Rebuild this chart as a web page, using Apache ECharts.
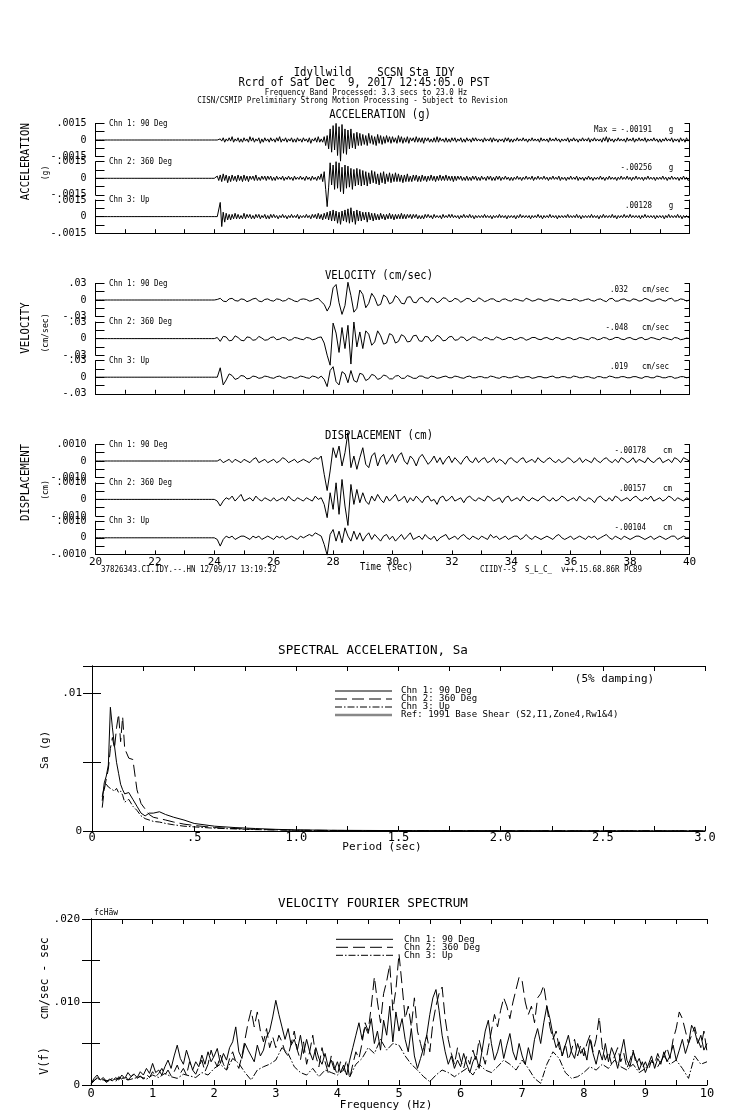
<!DOCTYPE html>
<html><head><meta charset="utf-8">
<script src="https://cdn.jsdelivr.net/npm/echarts@6/dist/echarts.min.js"></script>
<style>html,body{margin:0;padding:0;background:#fff}#c{width:739px;height:1115px}</style>
</head><body><div id="c"></div>
<script>
// ---------- DATA ----------
const TIME_START = 20;
// Acceleration, units of 1e-4 g, sampled every 0.05 s from 20.0 s to 40.0 s
const ACC_STEP = 0.05;
const acc1 = [0,0,0,0,0,0,0,0,0,0,0,0,0,0,0,0,0,0,0,0, 0,0,0,0,0,0,0,0,0,0,0,0,0,0,0,0,0,0,0,0,
 0,0,0,0,0,0,0,0,0,0,0,0,0,0,0,0,0,0,0,0, 0,0,0,0,0,0,0,0,0,0,0,0,0,0,0,0,0,0,0,0,
 0,0,0,0,1,-1,2,-2,1,-1,2,-1,3,-2,1,-1,2,-2,1,-2,
 2,-1,1,-2,3,-1,2,-2,1,-1,2,-3,1,-2,2,-1,1,-2,2,-1,
 1,-2,2,-1,3,-2,1,-1,2,-2,1,-1,2,-2,1,-2,2,-1,1,-2,
 2,-1,1,-2,2,-3,1,-1,2,-2,3,-2,1,-2,3,-5,4,-8,10,-11,
 13,-9,15,-14,12,-19.1,14,-12,10,-13,9,-8,10,-7,6,-8,7,-5,6,-5,
 5,-4,4,-5,6,-3,4,-4,3,-5,5,-3,4,-4,3,-3,4,-2,3,-3,
 3,-2,2,-3,4,-2,3,-3,2,-2,3,-3,2,-1,2,-2,3,-2,2,-2,
 2,-3,2,-1,2,-2,1,-2,2,-2,3,-2,2,-1,1,-2,2,-2,1,-2,
 2,-1,2,-2,1,-1,2,-2,1,-2,2,-1,1,-2,2,-1,2,-1,1,-1,
 1,-2,2,-1,1,-1,2,-2,2,-1,1,-2,1,-1,1,-2,2,-1,2,-2,
 1,-2,1,-1,2,-1,1,-1,2,-1,1,-2,1,-1,2,-1,1,-1,1,-2,
 2,-1,1,-1,1,-2,2,-1,1,-1,2,-1,1,-2,1,-1,1,-1,2,-2,
 1,-1,2,-1,1,-2,1,-1,2,-1,1,-1,2,-2,1,-1,2,-1,1,-1,
 1,-2,2,-1,3,-2,2,-1,1,-2,1,-1,2,-1,1,-1,1,-2,2,-1,
 1,-1,2,-2,1,-1,2,-1,1,-1,2,-2,1,-1,1,-1,2,-1,1,-2,
 1,-2,1,-1,2,-1,1,-1,2,-2,1,-1,1,-2,2,-1,1,-2,2,-1, 1];
const acc2 = [0,0,0,0,0,0,0,0,0,0,0,0,0,0,0,0,0,0,0,0, 0,0,0,0,0,0,0,0,0,0,0,0,0,0,0,0,0,0,0,0,
 0,0,0,0,0,0,0,0,0,0,0,0,0,0,0,0,0,0,0,0, 0,0,0,0,0,0,0,0,0,0,0,0,0,0,0,0,0,0,0,0,
 0,0,2,-2,3,-3,4,-2,3,-4,2,-3,3,-2,2,-3,3,-2,2,-3,
 3,-2,2,-3,2,-1,2,-2,3,-2,1,-2,2,-1,2,-2,2,-1,2,-2,
 1,-2,2,-1,1,-1,2,-2,1,-1,2,-1,1,-2,2,-1,1,-1,2,-1,
 1,-2,2,-1,1,-2,2,-1,1,-2,2,-1,4,-3,6,-10,-25.6,-8,14,-6,
 12,-10,15,-9,14,-12,10,-14,12,-9,11,-8,9,-10,8,-7,9,-6,8,-7,
 7,-6,6,-7,5,-5,7,-4,6,-5,4,-6,5,-4,6,-5,4,-3,5,-4,
 4,-3,5,-3,4,-3,3,-4,3,-3,4,-3,2,-3,3,-2,3,-3,2,-3,
 3,-2,2,-3,2,-2,3,-2,2,-3,2,-2,3,-2,2,-2,3,-2,2,-2,
 2,-3,2,-2,2,-1,2,-2,1,-2,2,-2,1,-2,2,-1,2,-2,1,-2,
 2,-1,1,-2,2,-1,2,-2,1,-2,2,-1,2,-2,1,-1,2,-1,1,-2,
 1,-2,1,-1,2,-1,1,-2,1,-1,2,-1,1,-1,2,-2,1,-1,2,-1,
 1,-1,2,-1,1,-2,1,-1,2,-1,1,-1,2,-2,1,-1,1,-2,1,-1,
 2,-1,1,-1,2,-2,1,-1,1,-2,1,-1,2,-1,1,-2,1,-1,1,-1,
 2,-1,1,-2,1,-1,2,-1,1,-1,1,-2,1,-1,2,-1,1,-1,2,-1,
 1,-2,1,-1,2,-1,1,-1,1,-2,1,-1,2,-1,1,-1,1,-2,1,-1,
 1,-1,2,-1,1,-2,1,-1,2,-1,1,-1,1,-2,1,-1,2,-1,1,-2, -1];
const acc3 = [0,0,0,0,0,0,0,0,0,0,0,0,0,0,0,0,0,0,0,0, 0,0,0,0,0,0,0,0,0,0,0,0,0,0,0,0,0,0,0,0,
 0,0,0,0,0,0,0,0,0,0,0,0,0,0,0,0,0,0,0,0, 0,0,0,0,0,0,0,0,0,0,0,0,0,0,0,0,0,0,0,0,
 0,0,0,0,12.8,-9,4,-5,3,-3,2,-3,2,-2,3,-2,2,-2,1,-2,
 3,-2,2,-1,2,-2,1,-2,2,-1,2,-2,1,-1,2,-2,1,-2,2,-1,
 2,-1,1,-2,1,-1,2,-1,1,-2,1,-1,2,-1,1,-1,2,-2,1,-1,
 1,-1,2,-1,1,-2,2,-1,2,-2,3,-2,2,-3,3,-2,4,-3,5,-4,
 6,-4,5,-6,4,-7,5,-4,6,-5,7,-6,8,-5,5,-7,6,-4,5,-4,
 4,-3,4,-5,4,-3,3,-4,3,-3,2,-3,3,-2,2,-3,2,-2,3,-2,
 2,-3,2,-2,2,-2,3,-2,2,-2,2,-1,2,-2,2,-1,2,-2,1,-2,
 1,-2,2,-1,2,-1,1,-2,2,-1,1,-1,1,-2,2,-1,1,-1,2,-1,
 2,-1,1,-1,1,-2,1,-1,2,-1,1,-1,2,-1,1,-2,1,-1,1,-1,
 1,-1,2,-1,1,-1,1,-2,1,-1,1,-1,2,-1,1,-1,1,-2,1,-1,
 1,-1,1,-2,1,-1,2,-1,1,-1,1,-1,1,-2,1,-1,1,-1,2,-1,
 1,-2,1,-1,1,-1,2,-1,1,-1,1,-2,1,-1,1,-1,1,-1,2,-1,
 1,-1,1,-1,2,-1,1,-2,1,-1,1,-1,1,-1,2,-1,1,-1,1,-2,
 1,-1,2,-1,1,-1,1,-1,2,-1,1,-2,1,-1,1,-1,2,-1,1,-1,
 2,-1,1,-1,1,-1,1,-2,1,-1,2,-1,1,-1,1,-1,1,-2,1,-1,
 1,-1,1,-2,1,-1,2,-1,1,-1,1,-1,2,-1,1,-2,1,-1,1,-1, 0];
// Velocity (1e-3 cm/sec) and displacement (1e-4 cm), sampled every 0.1 s from 20.0 s to 40.0 s
const VD_STEP = 0.1;
const vel1 = [0,0,0,0,0,0,0,0,0,0, 0,0,0,0,0,0,0,0,0,0, 0,0,0,0,0,0,0,0,0,0, 0,0,0,0,0,0,0,0,0,0,
 0,1,3,-2,-3,2,3,-1,-2,2, 1,-3,-1,2,3,-2,-3,1,2,-1, -2,2,1,-2,-1,3,1,-2,-3,1, 2,1,-2,-1,2,3,-3,-8,-20,-10,
 22,28,-5,-26,-10,32,8,-22,-15,18, 10,-14,-6,12,4,-10,-8,9,5,-7, -4,8,3,-6,-7,5,6,-4,-5,3, 5,-2,-4,4,2,-5,-2,4,3,-3,
 -2,3,1,-4,-1,3,2,-3,-2,4, 1,-3,-1,2,2,-2,-3,1,2,-1, -2,2,1,-1,-2,3,1,-2,-1,2, 1,-2,-1,2,1,-1,-2,2,1,-1,
 -1,2,1,-2,-1,1,2,-1,-2,1, 2,-1,-3,2,3,-2,-2,1,2,-1, -2,2,1,-2,-1,3,1,-2,-2,1, 2,-1,-2,2,3,-2,-1,2,1,-2, 0];
const vel2 = [0,0,0,0,0,0,0,0,0,0, 0,0,0,0,0,0,0,0,0,0, 0,0,0,0,0,0,0,0,0,0, 0,0,0,0,0,0,0,0,0,0,
 0,2,-5,4,3,-4,-3,5,2,-3, -4,3,2,-3,-2,4,1,-3,-2,2, 3,-2,-1,2,1,-3,-2,2,1,-1, -2,2,1,-2,-1,2,3,-8,-30,-48,
 28,10,-25,20,-18,24,-46,30,-15,12, -18,14,8,-12,-6,14,5,-10,-8,9, 6,-8,-5,7,4,-6,-5,5,6,-4, -5,4,3,-5,-2,6,3,-4,-3,3,
 4,-3,-2,3,2,-4,-1,3,2,-2, -3,2,1,-2,-2,3,1,-2,-1,2, 2,-2,-1,2,1,-3,-1,2,2,-1, -2,1,2,-1,-2,2,1,-2,-1,2,
 1,-2,-1,2,1,-1,-2,2,1,-2, -1,2,1,-2,-1,2,2,-1,-2,1, 2,-1,-2,1,2,-2,-1,2,1,-1, -2,2,1,-1,-2,2,1,-2,-1,1, 0];
const vel3 = [0,0,0,0,0,0,0,0,0,0, 0,0,0,0,0,0,0,0,0,0, 0,0,0,0,0,0,0,0,0,0, 0,0,0,0,0,0,0,0,0,0,
 0,0,17,-14,-5,6,3,-4,-2,3, 2,-3,-2,2,1,-2,-1,2,1,-1, -2,1,2,-1,-2,1,1,-2,-1,2, 1,-1,-2,2,1,-2,2,-4,-17,12,
 19,-8,-14,10,6,-10,12,-6,-9,7, 5,-6,-3,5,3,-4,-2,4,2,-3, -3,2,3,-2,-2,3,1,-2,-2,2, 2,-1,-2,2,1,-2,-1,1,2,-1,
 -1,2,1,-1,-2,1,2,-1,-1,1, 1,-1,-1,2,1,-1,-2,1,1,-1, -1,1,2,-1,-1,1,1,-2,-1,1, 1,-1,-1,1,2,-1,-1,1,1,-1,
 -1,2,1,-1,-1,1,1,-1,-2,1, 1,-1,-1,2,1,-1,-1,1,1,-1, -1,1,1,-1,-2,1,1,-1,-1,2, 1,-1,-1,1,1,-2,-1,1,1,-1, 0];
const disp1 = [0,0,0,0,0,0,0,0,0,0, 0,0,0,0,0,0,0,0,0,0, 0,0,0,0,0,0,0,0,0,0, 0,0,0,0,0,0,0,0,0,0,
 0,0,1,-1,0,1,-1,1,0,-1, 1,0,-1,1,2,-1,0,1,-1,0, 1,-1,0,2,1,-1,0,1,-1,0, 1,0,-1,1,2,1,3,-8,-17.8,-6,
 8,2,9,-3,5,17,-4,3,-5,2, 8,-2,-4,3,5,-3,2,4,-2,1, 4,-1,3,5,0,-2,3,1,-3,2, 4,1,-2,0,3,-1,2,-2,1,3,
 -1,2,0,-2,1,3,0,-1,2,-1, 1,2,-1,0,2,-1,1,0,-2,1, 2,0,-1,1,2,-1,0,1,-1,2, 0,-1,1,2,0,-1,1,-1,0,2,
 1,-1,0,2,-1,1,0,-1,2,0, -1,1,2,0,-1,1,-1,2,1,-1, 0,2,-1,1,0,-1,2,0,-1,1, 2,-1,0,1,-1,2,1,-1,2,1, 0];
const disp2 = [0,0,0,0,0,0,0,0,0,0, 0,0,0,0,0,0,0,0,0,0, 0,0,0,0,0,0,0,0,0,0, 0,0,0,0,0,0,0,0,0,0,
 0,-1,-4,-1,1,0,2,-1,1,3, -1,0,1,-1,2,0,-1,1,0,-1, 1,-1,0,1,-1,2,0,-1,1,0, -1,1,0,-1,2,0,1,-3,-11,4,
 -6,10,-9,12,-4,-15.7,9,-3,6,-2, 4,-1,-3,2,-1,3,0,-2,2,-1, 1,3,-1,0,2,-2,1,-1,2,0, -2,1,2,-1,0,-3,1,2,-1,0,
 2,-1,0,1,-2,1,2,0,-1,1, 0,-1,2,1,-1,0,1,-2,1,2, -1,0,1,-1,2,0,-1,1,0,-1, 1,2,0,-1,1,-1,0,2,1,-1,
 0,1,-1,2,0,-1,1,0,-2,1, 2,0,-1,1,-1,2,1,-1,0,1, -1,1,2,0,-1,1,0,2,-1,0, 1,-1,0,2,1,-1,1,0,-1,1, 0];
const disp3 = [0,0,0,0,0,0,0,0,0,0, 0,0,0,0,0,0,0,0,0,0, 0,0,0,0,0,0,0,0,0,0, 0,0,0,0,0,0,0,0,0,0,
 0,-1,-5,-1,1,0,1,-1,0,1, 1,0,-1,1,0,1,-1,0,1,0, -1,1,0,1,-1,0,1,0,-1,1, 0,1,2,1,3,2,1,-4,-10.4,2,
 5,-2,4,-3,6,1,-2,4,-1,3, -2,1,3,-1,2,0,-2,1,2,-1, 1,-2,0,2,-1,1,3,-1,0,1, -1,2,0,-1,1,-2,0,1,2,-1,
 0,1,-1,1,2,0,-1,1,0,-1, 1,0,-1,2,0,1,-1,0,1,-1, 0,1,1,-1,0,2,0,-1,1,0, -1,0,1,0,-1,1,2,0,-1,0,
 1,-1,0,1,0,-1,1,0,1,-1, 0,1,2,0,-1,1,0,-1,1,0, -1,0,1,1,0,-1,0,1,-1,0, 1,0,-1,0,1,1,-1,0,1,0, 0];

const channelNames = ['Chn 1: 90 Deg', 'Chn 2: 360 Deg', 'Chn 3: Up'];
const accMax = ['-.00191', '-.00256', '.00128'];
const velMax = ['.032', '-.048', '.019'];
const dispMax = ['-.00178', '.00157', '-.00104'];
const timeTicks = [20,22,24,26,28,30,32,34,36,38,40];

// Spectral acceleration (5% damping), Sa in units of 1e-3 g
const saPeriods = [0.05,0.06,0.07,0.08,0.09,0.10,0.11,0.12,0.13,0.14,0.15,0.16,0.18,0.20,0.22,0.24,0.26,0.28,0.30,0.33,0.36,0.40,0.45,0.50,0.60,0.70,0.80,0.90,1.00,1.20,1.50,2.00,2.50,3.00];
const saChn1 = [2.2,3.5,4.0,4.8,9.0,7.5,6.2,5.0,4.2,3.4,3.0,2.7,2.8,2.3,1.8,1.3,1.1,1.3,1.3,1.4,1.2,1.0,0.8,0.55,0.35,0.25,0.18,0.12,0.08,0.05,0.03,0.02,0.01,0.01];
const saChn2 = [1.7,3.0,3.8,4.5,6.0,6.8,6.0,7.5,8.5,6.5,8.3,6.0,5.3,5.2,3.0,2.0,1.6,1.2,1.0,0.9,0.8,0.65,0.5,0.4,0.25,0.18,0.12,0.08,0.06,0.04,0.02,0.01,0.01,0.01];
const saChn3 = [2.5,3.2,3.4,3.2,3.1,3.0,2.9,3.1,2.8,2.9,2.6,2.1,2.3,1.8,1.5,1.1,0.9,0.8,0.7,0.65,0.55,0.45,0.35,0.3,0.2,0.15,0.1,0.08,0.05,0.03,0.02,0.01,0.01,0.01];

// Velocity Fourier spectrum, units of 1e-3 cm/sec-sec
const FS_STEP_12 = 0.05, FS_STEP_3 = 0.1; // Hz
const fsChn1 = [0.2,0.8,1.2,0.6,0.9,0.4,0.7,0.5,0.9,0.6,1.2,0.8,1.5,1.0,1.3,0.9,1.6,1.2,2.0,1.4,
 2.6,1.5,1.8,1.2,2.2,3.0,2.0,3.5,4.8,3.2,2.5,4.2,3.0,1.8,2.8,2.2,3.6,2.5,4.0,2.8,
 3.5,4.4,2.6,3.8,3.0,4.5,5.2,7.0,4.0,3.2,5.0,4.2,3.5,2.8,4.8,3.5,4.2,5.8,6.5,8.2,
 10.2,8.5,7.0,5.5,6.8,4.8,5.5,4.2,6.0,3.8,5.5,4.0,3.0,4.5,3.2,2.5,3.8,2.2,3.0,1.8,
 2.8,1.5,2.4,1.2,3.0,4.5,6.0,7.5,5.5,7.0,6.2,8.0,5.0,6.5,4.2,7.8,6.0,9.5,5.2,8.8,
 6.5,8.0,5.5,4.0,6.8,3.5,2.0,3.2,4.5,6.0,8.5,10.5,11.5,9.0,6.0,4.0,2.5,3.5,2.0,3.0,
 2.2,3.8,2.5,1.5,2.8,3.5,2.0,4.2,6.5,7.8,5.0,3.0,4.0,5.5,3.2,4.8,6.2,4.0,3.0,5.0,
 3.5,2.5,4.5,3.0,5.5,6.8,5.0,7.5,9.5,8.0,6.0,4.5,5.2,3.5,4.8,6.0,4.0,3.2,5.0,3.8,
 4.5,3.0,5.5,3.8,2.5,4.2,3.0,5.0,2.8,4.5,3.5,2.0,3.8,5.5,3.0,2.2,4.0,3.0,1.8,2.8,
 1.5,2.5,3.5,2.0,3.2,2.5,4.0,2.8,3.5,4.8,3.0,4.2,5.5,3.8,5.0,7.2,6.5,5.0,6.0,4.2, 5.0];
const fsChn2 = [0.1,0.5,0.9,0.5,0.7,0.3,0.6,0.8,0.4,1.0,0.7,1.2,0.6,1.0,1.4,0.8,1.1,0.7,1.3,0.9,
 1.6,1.0,1.4,2.0,1.2,1.8,1.1,1.6,2.4,1.4,2.0,1.2,2.8,1.8,1.3,2.2,3.0,1.6,2.5,4.2,
 3.0,2.2,3.6,2.5,1.8,3.2,4.0,2.8,2.0,3.5,5.5,7.5,9.0,7.0,8.8,6.5,5.2,6.8,4.5,5.8,
 4.5,6.0,5.2,4.0,3.5,5.0,6.5,4.2,3.0,5.2,2.5,4.0,6.0,3.5,2.2,4.5,2.8,1.5,3.5,2.2,
 1.2,2.8,1.8,3.0,0.8,2.5,4.0,3.2,5.0,7.5,6.5,9.5,13.0,10.0,7.5,11.0,12.5,14.5,9.0,11.5,
 15.8,12.0,8.0,9.5,7.0,10.5,6.5,5.0,3.5,6.0,4.0,7.5,9.5,11.0,11.8,8.0,5.5,3.8,2.5,4.5,
 3.0,2.0,3.5,2.5,4.2,3.0,5.5,3.8,2.5,4.5,6.5,8.5,7.0,9.0,10.5,9.5,8.0,10.0,11.5,13.0,
 12.5,10.0,8.5,9.5,7.5,10.5,11.0,12.0,9.5,7.0,5.5,6.5,4.5,3.5,5.0,3.0,4.2,5.5,3.5,4.8,
 3.5,5.0,6.0,4.0,5.5,8.2,4.5,3.0,4.0,2.5,3.5,4.5,2.8,3.8,2.0,3.0,4.2,2.5,3.2,2.0,
 2.8,1.8,3.0,2.5,3.8,2.8,3.5,4.5,3.2,5.5,6.8,8.8,8.0,6.5,5.0,6.0,7.0,5.5,4.5,6.5, 4.0];
const fsChn3 = [0.3,0.8,0.6,0.5,0.7,0.9,0.6,0.8,1.0,0.7,
 1.2,0.9,1.4,1.0,0.8,1.3,1.1,0.9,1.5,1.2,
 2.0,2.5,1.8,3.2,2.6,1.5,0.6,1.8,2.2,2.5,
 3.0,4.5,3.8,2.2,1.5,1.2,2.0,1.0,1.8,1.5,
 1.2,1.8,1.0,2.5,3.2,4.5,3.8,5.5,4.2,5.0,
 4.8,3.5,2.5,1.8,1.0,0.4,1.2,1.8,1.5,1.0,
 1.5,2.0,1.2,2.5,1.8,1.5,2.2,3.0,2.5,1.8,
 3.0,2.0,0.8,0.2,2.5,4.0,3.2,1.5,0.8,1.0,
 1.5,2.2,1.8,2.5,2.0,3.0,2.2,1.8,2.5,1.5,
 2.0,2.8,2.2,3.5,2.5,3.0,2.0,0.8,3.5,2.5, 2.8];

// ---------- LAYOUT / STYLE ----------
const MONO = "'DejaVu Sans Mono', 'Liberation Mono', monospace";
const INK = '#000';
const W_LEFT = 95.5, W_WIDTH = 594, HALF = 16.6;
const panels = [
  { zeros: [140, 178.3, 216.6], data: [acc1, acc2, acc3], step: ACC_STEP, range: 15,
    lab: { 15: '.0015', 0: '0', '-15': '-.0015' } },
  { zeros: [300, 338.6, 377.2], data: [vel1, vel2, vel3], step: VD_STEP, range: 30,
    lab: { 30: '.03', 0: '0', '-30': '-.03' } },
  { zeros: [461, 499.4, 537.8], data: [disp1, disp2, disp3], step: VD_STEP, range: 10,
    lab: { 10: '.0010', 0: '0', '-10': '-.0010' } }
];
const DASH2 = [12, 5], DASH3 = [7, 2, 1.5, 2];

const grids = [], xAxes = [], yAxes = [], series = [];
const ts = (arr, step) => arr.map((v, i) => [+(TIME_START + i * step).toFixed(3), v]);
const axisLineStyle = { color: INK, width: 1 };

panels.forEach((p, pi) => {
  p.zeros.forEach((z, ci) => {
    const g = grids.length;
    grids.push({ left: W_LEFT, top: z - HALF, width: W_WIDTH, height: 2 * HALF });
    xAxes.push({
      gridIndex: g, type: 'value', min: 20, max: 40, interval: 1, show: ci === 2,
      axisLine: { show: true, onZero: false, lineStyle: axisLineStyle },
      axisTick: { show: true, inside: true, length: 4, lineStyle: axisLineStyle },
      axisLabel: { show: pi === 2, margin: 2, fontSize: 11, color: INK, fontFamily: MONO,
        formatter: v => timeTicks.indexOf(v) >= 0 ? String(v) : '' },
      splitLine: { show: false }
    });
    const R = p.range;
    yAxes.push({
      gridIndex: g, type: 'value', min: -R, max: R, interval: R / 2, position: 'left',
      axisLine: { show: true, lineStyle: axisLineStyle },
      axisTick: { show: true, inside: true, length: 9, lineStyle: axisLineStyle },
      axisLabel: { margin: 9, fontSize: 10, color: INK, fontFamily: MONO,
        formatter: v => (p.lab[String(v)] !== undefined ? p.lab[String(v)] : '') },
      splitLine: { show: false }
    });
    yAxes.push({
      gridIndex: g, type: 'value', min: -R, max: R, interval: R / 2, position: 'right',
      axisLine: { show: true, lineStyle: axisLineStyle },
      axisTick: { show: true, inside: true, length: 5, lineStyle: axisLineStyle },
      axisLabel: { show: false }, splitLine: { show: false }
    });
    series.push({
      type: 'line', xAxisIndex: g, yAxisIndex: 2 * g, data: ts(p.data[ci], p.step),
      showSymbol: false, clip: false, silent: true,
      lineStyle: { color: INK, width: 1 }
    });
  });
});

// Spectral acceleration panel
const SA_G = grids.length;
grids.push({ left: 92, top: 666, width: 613, height: 165 });
const saXLabel = v => {
  if (Math.abs(v * 2 - Math.round(v * 2)) > 1e-6) return '';
  if (v === 0) return '0';
  if (Math.abs(v - 0.5) < 1e-6) return '.5';
  return v.toFixed(1);
};
xAxes.push({ gridIndex: SA_G, type: 'value', min: 0, max: 3, interval: 0.25, position: 'bottom',
  axisLine: { show: true, onZero: false, lineStyle: axisLineStyle },
  axisTick: { inside: true, length: 5, lineStyle: axisLineStyle },
  axisLabel: { margin: 1, fontSize: 12, color: INK, fontFamily: MONO, formatter: saXLabel },
  splitLine: { show: false } });
xAxes.push({ gridIndex: SA_G, type: 'value', min: 0, max: 3, interval: 0.25, position: 'top',
  axisLine: { show: true, onZero: false, lineStyle: axisLineStyle },
  axisTick: { inside: true, length: 5, lineStyle: axisLineStyle },
  axisLabel: { show: false }, splitLine: { show: false } });
yAxes.push({ gridIndex: SA_G, type: 'value', min: 0, max: 12, interval: 5, position: 'left',
  axisLine: { show: true, lineStyle: axisLineStyle },
  axisTick: { inside: true, length: 9, lineStyle: axisLineStyle },
  axisLabel: { margin: 10, fontSize: 11, color: INK, fontFamily: MONO,
    formatter: v => v === 0 ? '0' : v === 10 ? '.01' : '' },
  splitLine: { show: false } });
yAxes.push({ gridIndex: SA_G, type: 'value', min: 0, max: 12, interval: 5, position: 'right',
  axisLine: { show: true, lineStyle: axisLineStyle },
  axisTick: { inside: true, length: 9, lineStyle: axisLineStyle },
  axisLabel: { show: false }, splitLine: { show: false } });
const saPairs = vals => saPeriods.map((p, i) => [p, vals[i]]);
[[saChn1, 'solid'], [saChn2, DASH2], [saChn3, DASH3]].forEach(([vals, type]) => {
  series.push({ type: 'line', xAxisIndex: 9, yAxisIndex: 2 * SA_G, data: saPairs(vals),
    showSymbol: false, clip: true, silent: true, lineStyle: { color: INK, width: 1, type } });
});

// Fourier spectrum panel
const FS_G = grids.length;
grids.push({ left: 91, top: 919, width: 616, height: 166 });
xAxes.push({ gridIndex: FS_G, type: 'value', min: 0, max: 10, interval: 0.5, position: 'bottom',
  axisLine: { show: true, onZero: false, lineStyle: axisLineStyle },
  axisTick: { inside: true, length: 5, lineStyle: axisLineStyle },
  axisLabel: { margin: 3, fontSize: 12, color: INK, fontFamily: MONO,
    formatter: v => Number.isInteger(v) ? String(v) : '' },
  splitLine: { show: false } });
xAxes.push({ gridIndex: FS_G, type: 'value', min: 0, max: 10, interval: 0.5, position: 'top',
  axisLine: { show: true, onZero: false, lineStyle: axisLineStyle },
  axisTick: { inside: true, length: 5, lineStyle: axisLineStyle },
  axisLabel: { show: false }, splitLine: { show: false } });
yAxes.push({ gridIndex: FS_G, type: 'value', min: 0, max: 20, interval: 5, position: 'left',
  axisLine: { show: true, lineStyle: axisLineStyle },
  axisTick: { inside: true, length: 9, lineStyle: axisLineStyle },
  axisLabel: { margin: 11, fontSize: 11, color: INK, fontFamily: MONO,
    formatter: v => v === 0 ? '0' : v === 10 ? '.010' : v === 20 ? '.020' : '' },
  splitLine: { show: false } });
yAxes.push({ gridIndex: FS_G, type: 'value', min: 0, max: 20, interval: 5, position: 'right',
  axisLine: { show: true, lineStyle: axisLineStyle },
  axisTick: { inside: true, length: 9, lineStyle: axisLineStyle },
  axisLabel: { show: false }, splitLine: { show: false } });
const fsPairs = (vals, step) => vals.map((v, i) => [+(i * step).toFixed(2), v]);
[[fsChn1, FS_STEP_12, 'solid'], [fsChn2, FS_STEP_12, DASH2], [fsChn3, FS_STEP_3, DASH3]].forEach(([vals, st, type]) => {
  series.push({ type: 'line', xAxisIndex: 11, yAxisIndex: 2 * FS_G, data: fsPairs(vals, st),
    showSymbol: false, clip: true, silent: true, lineStyle: { color: INK, width: 1, type } });
});

// ---------- TEXT ----------
const graphic = [];
function T(text, x, y, size, o) {
  o = o || {};
  graphic.push({ type: 'text', x, y, rotation: o.rot || 0, scaleX: o.sx || 1, silent: true,
    style: { text, x: 0, y: 0, fontSize: size, fontFamily: MONO, fill: INK,
      align: o.align || 'center', verticalAlign: 'middle' } });
}
function L(x1, y1, x2, y2, dash, w, color) {
  graphic.push({ type: 'line', silent: true, shape: { x1, y1, x2, y2 },
    style: { stroke: color || INK, lineWidth: w || 1, lineDash: dash || null } });
}
T('Idyllwild    SCSN Sta IDY', 374, 73.3, 12, { sx: 0.89 });
T('Rcrd of Sat Dec  9, 2017 12:45:05.0 PST', 364, 82.7, 12, { sx: 0.89 });
T('Frequency Band Processed: 3.3 secs to 23.0 Hz', 366, 92.3, 8.5, { sx: 0.88 });
T('CISN/CSMIP Preliminary Strong Motion Processing - Subject to Revision', 352.5, 100.7, 8.5, { sx: 0.88 });
T('ACCELERATION (g)', 380, 115, 12, { sx: 0.88 });
T('VELOCITY (cm/sec)', 379, 275.7, 12, { sx: 0.88 });
T('DISPLACEMENT (cm)', 379, 435.7, 12, { sx: 0.88 });
const ROT = Math.PI / 2;
T('ACCELERATION', 26, 161.7, 13, { rot: ROT, sx: 0.82 });
T('(g)', 45.6, 173, 9, { rot: ROT, sx: 0.9 });
T('VELOCITY', 26, 328, 13, { rot: ROT, sx: 0.82 });
T('(cm/sec)', 45.6, 333, 9, { rot: ROT, sx: 0.9 });
T('DISPLACEMENT', 26, 482.5, 13, { rot: ROT, sx: 0.82 });
T('(cm)', 45.6, 490, 9, { rot: ROT, sx: 0.9 });
panels.forEach((p, pi) => {
  p.zeros.forEach((z, ci) => {
    T(channelNames[ci], 109, z - HALF, 8.5, { sx: 0.88, align: 'left' });
    if (pi === 0) {
      if (ci === 0) T('Max =', 594, z - 10.5, 8.5, { sx: 0.88, align: 'left' });
      T(accMax[ci], 652, z - 10.5, 8.5, { sx: 0.88, align: 'right' });
      T('g', 671, z - 10.5, 8.5, { sx: 0.88 });
    } else if (pi === 1) {
      T(velMax[ci], 628, z - 10.5, 8.5, { sx: 0.88, align: 'right' });
      T('cm/sec', 642, z - 10.5, 8.5, { sx: 0.88, align: 'left' });
    } else {
      T(dispMax[ci], 646, z - 10.5, 8.5, { sx: 0.88, align: 'right' });
      T('cm', 663, z - 10.5, 8.5, { sx: 0.88, align: 'left' });
    }
  });
});
T('Time (sec)', 386.5, 567.7, 10, { sx: 0.88 });
T('37826343.CI.IDY.--.HN 12/09/17 13:19:32', 101, 569.3, 8.5, { sx: 0.88, align: 'left' });
T('CIIDY--S  S_L_C_  v++.15.68.86R PC89', 480, 569.3, 8.5, { sx: 0.88, align: 'left' });

// Spectral acceleration texts
T('SPECTRAL ACCELERATION, Sa', 373, 650.5, 13, { sx: 0.97 });
T('(5% damping)', 614.5, 679.3, 11);
T('Period (sec)', 382, 847, 11);
T('Sa (g)', 45, 750, 10.5, { rot: ROT });
const saLeg = [['Chn 1: 90 Deg', null, 1, INK], ['Chn 2: 360 Deg', DASH2, 1, INK], ['Chn 3: Up', DASH3, 1, INK],
  ['Ref: 1991 Base Shear (S2,I1,Zone4,Rw1&4)', null, 2.5, '#888']];
saLeg.forEach((e, i) => {
  const y = 691 + i * 8;
  L(335, y, 392, y, e[1], e[2], e[3]);
  T(e[0], 401, y, 9.5, { sx: 0.95, align: 'left' });
});

// Fourier spectrum texts
T('VELOCITY FOURIER SPECTRUM', 373, 904, 13, { sx: 0.97 });
T('fcHäw', 94, 913, 8, { align: 'left' });
T('Frequency (Hz)', 386, 1105, 11);
T('V(f)    cm/sec - sec', 45, 1006, 12, { rot: ROT, sx: 0.95 });
const fsLeg = [['Chn 1: 90 Deg', null], ['Chn 2: 360 Deg', DASH2], ['Chn 3: Up', DASH3]];
fsLeg.forEach((e, i) => {
  const y = 939.3 + i * 8;
  L(336, y, 393, y, e[1], 1, INK);
  T(e[0], 404, y, 9.5, { sx: 0.95, align: 'left' });
});

const chart = echarts.init(document.getElementById('c'), null, { renderer: 'canvas' });
chart.setOption({
  backgroundColor: '#fff', animation: false,
  grid: grids, xAxis: xAxes, yAxis: yAxes, series, graphic
});
</script></body></html>
